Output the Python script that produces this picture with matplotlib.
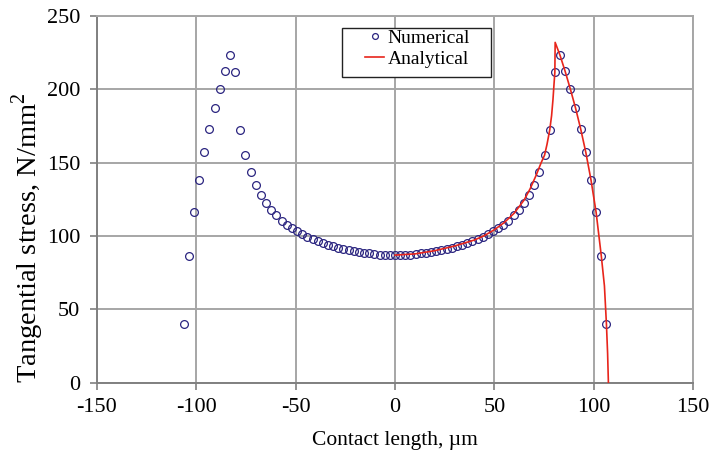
import matplotlib
matplotlib.use("Agg")
import matplotlib.pyplot as plt
from matplotlib.patches import Rectangle

# Numerical solution: tangential stress sampled along the contact length
num_x = [-106.40, -103.81, -101.21, -98.62, -96.02, -93.43, -90.83, -88.24, -85.64, -83.05,
         -80.45, -77.86, -75.26, -72.67, -70.07, -67.48, -64.88, -62.29, -59.69, -57.10,
         -54.50, -51.91, -49.31, -46.72, -44.12, -41.53, -38.93, -36.34, -33.74, -31.15,
         -28.55, -25.96, -23.36, -20.77, -18.17, -15.58, -12.98, -10.39, -7.79, -5.20,
         -2.60, 0.00, 2.60, 5.20, 7.79, 10.39, 12.98, 15.58, 18.17, 20.77,
         23.36, 25.96, 28.55, 31.15, 33.74, 36.34, 38.93, 41.53, 44.12, 46.72,
         49.31, 51.91, 54.50, 57.10, 59.69, 62.29, 64.88, 67.48, 70.07, 72.67,
         75.26, 77.86, 80.45, 83.05, 85.64, 88.24, 90.83, 93.43, 96.02, 98.62,
         101.21, 103.81, 106.40]
num_y = [40.2, 86.6, 116.2, 138.4, 157.1, 173.1, 187.4, 200.2, 212.2, 223.2,
         211.6, 172.2, 155.1, 143.4, 135.0, 128.3, 122.6, 117.9, 114.1, 110.5,
         107.7, 105.5, 103.4, 101.4, 99.5, 97.8, 96.4, 95.1, 94.0, 92.9,
         92.0, 91.2, 90.4, 89.7, 89.1, 88.6, 88.1, 87.7, 87.4, 87.2,
         87.0, 87.0, 87.0, 87.2, 87.4, 87.7, 88.1, 88.6, 89.1, 89.7,
         90.4, 91.2, 92.0, 92.9, 94.0, 95.1, 96.4, 97.8, 99.5, 101.4,
         103.4, 105.5, 107.7, 110.5, 114.1, 117.9, 122.6, 128.3, 135.0, 143.4,
         155.1, 172.2, 211.6, 223.2, 212.2, 200.2, 187.4, 173.1, 157.1, 138.4,
         116.2, 86.6, 40.2]

# Analytical solution (right half of the contact)
ana_x = [0.0, 10.0, 20.0, 30.0, 40.0, 45.0, 50.0, 55.0, 60.0, 65.0, 68.0, 71.0,
         73.5, 75.26, 76.5, 77.86, 78.8, 79.5, 80.0, 80.45, 80.6,
         83.05, 85.64, 88.24, 90.83, 93.43, 96.02, 98.62, 101.21, 103.81,
         105.4, 106.4, 107.0, 107.4]
ana_y = [87.0, 87.8, 90.0, 93.2, 97.3, 100.3, 104.3, 109.2, 115.6, 124.6, 132.2, 141.3,
         149.8, 155.1, 162.5, 172.2, 182.0, 193.0, 203.0, 211.6, 232.0,
         223.2, 212.2, 200.2, 187.4, 173.1, 157.1, 138.4, 116.2, 86.6,
         66.0, 40.2, 20.0, 0.0]

x_ticks = [-150, -100, -50, 0, 50, 100, 150]
y_ticks = [0, 50, 100, 150, 200, 250]

plt.rcParams['font.family'] = ['Liberation Serif', 'DejaVu Serif']
plt.rcParams['axes.unicode_minus'] = False
plt.rcParams['mathtext.fontset'] = 'custom'
plt.rcParams['mathtext.rm'] = 'Liberation Serif'

fig = plt.figure(figsize=(7.26, 4.54), dpi=100)
ax = fig.add_axes([0.1336, 0.157, 0.821, 0.8078])

ax.plot(num_x, num_y, linestyle='none', marker='o', markersize=5.6,
        markerfacecolor='none', markeredgecolor='#2b2580', markeredgewidth=0.9,
        label='Numerical', zorder=3)
ax.plot(ana_x, ana_y, color='#e8251b', linewidth=1.2, label='Analytical', zorder=4)

ax.set_xlim(-150, 150)
ax.set_ylim(0, 250)
ax.set_xticks(x_ticks)
ax.set_yticks(y_ticks)
ax.grid(True, color='#a6a6a6', linewidth=1.4)
ax.set_axisbelow(True)

for side in ('top', 'right'):
    ax.spines[side].set_color('#a6a6a6')
    ax.spines[side].set_linewidth(1.4)
for side in ('left', 'bottom'):
    ax.spines[side].set_color('#808080')
    ax.spines[side].set_linewidth(1.4)

ax.tick_params(axis='both', direction='out', length=5, width=1.2,
               color='#808080', labelsize=16)
ax.tick_params(axis='x', pad=6)
ax.tick_params(axis='y', pad=7)

ax.set_xlabel('Contact length, µm', fontsize=15.5, labelpad=10)
ax.set_ylabel('Tangential stress, N/mm$^{\\mathrm{2}}$', fontsize=20.5)
ax.yaxis.set_label_coords(-0.086, 0.395)

# Legend box with the entries centred inside it
box = Rectangle((0.411, 0.8337), 0.661 - 0.411, 0.968 - 0.8337,
                transform=ax.transAxes, facecolor='white', edgecolor='#222222',
                linewidth=1.0, zorder=5)
ax.add_patch(box)
leg = ax.legend(loc='upper left', bbox_to_anchor=(0.4497, 0.9645), fontsize=14,
                frameon=False, borderpad=0, borderaxespad=0,
                handlelength=1.0, handletextpad=0.15, labelspacing=0.2,
                markerscale=0.75)
leg.set_zorder(6)

fig.savefig('out.png', dpi=100)
